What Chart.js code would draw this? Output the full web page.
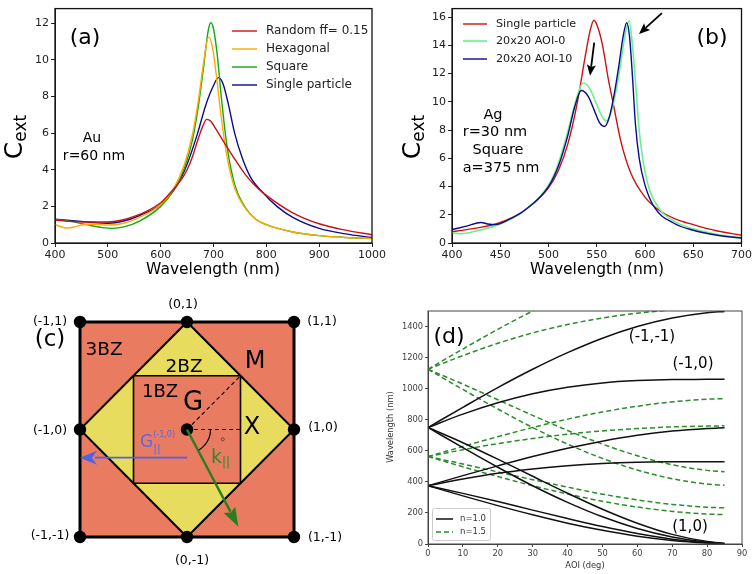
<!DOCTYPE html>
<html>
<head>
<meta charset="utf-8">
<script src="https://cdn.jsdelivr.net/npm/chart.js@4/dist/chart.umd.min.js"></script>
<style>
  html, body { margin: 0; padding: 0; background: #ffffff; }
  body { width: 754px; height: 574px; position: relative; overflow: hidden; }
  canvas { position: absolute; }
</style>
</head>
<body>
<canvas id="cc" width="374" height="284" style="left:0px;top:290px"></canvas>
<canvas id="cd" width="374" height="284" style="left:380px;top:290px"></canvas>
<canvas id="cb" width="374" height="285" style="left:380px;top:0px"></canvas>
<canvas id="ca" width="390" height="285" style="left:0px;top:0px"></canvas>
<script>
// ---------------- DATA: panel (a) Au r=60 nm ----------------
const aTicksX = [400, 500, 600, 700, 800, 900, 1000];
const aTicksY = [0, 2, 4, 6, 8, 10, 12];
const aRandomX = [400, 450, 500, 550, 600, 620, 640, 650, 660, 670, 680, 687, 695, 705, 720, 738, 760, 780, 800, 850, 900, 950, 1000];
const aRandomY = [1.25, 1.15, 1.15, 1.45, 2.2, 2.8, 3.5, 4.0, 4.7, 5.6, 6.4, 6.75, 6.65, 6.2, 5.5, 4.68, 3.75, 3.1, 2.6, 1.65, 1.05, 0.7, 0.45];
const aHexX = [400, 410, 422, 435, 450, 470, 500, 530, 560, 600, 625, 645, 660, 672, 682, 690.5, 698, 706, 715, 725, 740, 760, 780, 800, 850, 900, 950, 1000];
const aHexY = [1.02, 0.9, 0.82, 0.86, 0.98, 1.02, 0.98, 1.08, 1.4, 2.1, 3.0, 4.3, 5.9, 7.9, 10.0, 11.24, 10.7, 9.0, 6.8, 4.8, 3.0, 1.9, 1.3, 1.0, 0.6, 0.4, 0.3, 0.25];
const aSquareX = [400, 430, 460, 490, 510, 530, 560, 600, 625, 645, 660, 672, 682, 690, 695, 700, 707, 715, 725, 740, 760, 780, 800, 850, 900, 950, 1000];
const aSquareY = [1.28, 1.18, 1.0, 0.84, 0.8, 0.88, 1.2, 2.0, 2.9, 4.1, 5.6, 7.6, 9.8, 11.6, 12.03, 11.7, 10.3, 7.9, 5.4, 3.2, 1.95, 1.3, 1.0, 0.6, 0.4, 0.3, 0.25];
const aSingleX = [400, 450, 480, 500, 530, 560, 600, 630, 650, 670, 685, 700, 709.5, 718, 728, 740, 755, 770, 795, 820, 850, 900, 950, 1000];
const aSingleY = [1.3, 1.18, 1.1, 1.08, 1.2, 1.5, 2.1, 3.1, 4.3, 6.0, 7.5, 8.6, 9.03, 8.7, 7.6, 6.0, 4.6, 3.6, 2.7, 2.0, 1.4, 0.8, 0.5, 0.3];

// ---------------- DATA: panel (b) Ag r=30 nm ----------------
const bTicksX = [400, 450, 500, 550, 600, 650, 700];
const bTicksY = [0, 2, 4, 6, 8, 10, 12, 14, 16];
const bSingleX = [400, 425, 450, 475, 500, 510, 520, 530, 538, 543, 547, 551, 556, 562, 567, 575, 585, 600, 615, 630, 650, 675, 700];
const bSingleY = [0.8, 1.05, 1.45, 2.3, 3.9, 5.1, 7.0, 10.0, 13.2, 15.0, 15.78, 15.3, 14.0, 11.6, 9.9, 7.2, 5.0, 3.25, 2.3, 1.75, 1.3, 0.85, 0.55];
const bAoi0X = [400, 410, 425, 450, 475, 500, 510, 520, 528, 536, 543, 550, 556, 560, 565, 570, 575, 579, 583.5, 587, 590, 594, 598, 605, 615, 630, 650, 675, 700];
const bAoi0Y = [0.72, 0.66, 0.85, 1.35, 2.3, 4.1, 5.6, 7.9, 10.0, 11.35, 10.9, 9.8, 8.9, 8.65, 9.3, 10.8, 12.8, 14.6, 15.75, 14.0, 11.5, 8.0, 5.8, 3.7, 2.4, 1.55, 1.0, 0.6, 0.38];
const bAoi10X = [400, 415, 430, 437, 445, 460, 475, 500, 510, 520, 527, 534, 541, 548, 553, 558, 563, 568, 573, 577, 581, 584, 587, 590, 594, 600, 610, 630, 650, 675, 700];
const bAoi10Y = [0.95, 1.2, 1.45, 1.35, 1.3, 1.7, 2.3, 4.0, 5.4, 7.6, 9.6, 10.8, 10.4, 9.3, 8.5, 8.25, 8.9, 10.5, 12.6, 14.5, 15.6, 14.6, 11.8, 8.5, 6.0, 4.1, 2.5, 1.4, 0.9, 0.55, 0.35];

// ---------------- DATA: panel (d) Rayleigh anomalies ----------------
const dTicksX = [0, 10, 20, 30, 40, 50, 60, 70, 80, 90];
const dTicksY = [0, 200, 400, 600, 800, 1000, 1200, 1400];
const aoi = [0, 10, 20, 30, 40, 50, 60, 70, 80, 85];
const n1_750up1 = [750, 880, 1007, 1125, 1232, 1325, 1400, 1455, 1489, 1497];
const n1_750up2 = [750, 836, 909, 967, 1009, 1037, 1052, 1059, 1060, 1061];
const n1_750dn1 = [750, 620, 494, 375, 268, 175, 100, 45, 11, 3];
const n1_750dn2 = [750, 652, 546, 436, 327, 224, 134, 62, 16, 4];
const n1_375up1 = [375, 440, 503, 563, 616, 662, 700, 727, 744, 749];
const n1_375up2 = [375, 418, 455, 483, 504, 518, 526, 529, 530, 530];
const n1_375dn1 = [375, 310, 247, 188, 134, 88, 50, 23, 6, 1];
const n1_375dn2 = [375, 326, 273, 218, 164, 112, 67, 31, 8, 2];
const n15_1125up1 = [1125, 1255, 1382, 1500, 1607, 1700, 1775, 1830, 1864, 1872];
const n15_1125up2 = [1125, 1213, 1292, 1359, 1413, 1455, 1486, 1507, 1519, 1522];
const n15_1125dn1 = [1125, 995, 869, 750, 643, 551, 476, 420, 386, 378];
const n15_1125dn2 = [1125, 1029, 929, 828, 731, 643, 568, 510, 474, 465];
const n15_562up1 = [563, 628, 691, 750, 804, 850, 887, 915, 932, 936];
const n15_562up2 = [563, 607, 646, 679, 707, 728, 743, 754, 759, 761];
const n15_562dn1 = [563, 497, 434, 375, 322, 275, 238, 210, 193, 189];
const n15_562dn2 = [563, 515, 464, 414, 366, 321, 284, 255, 237, 233];

// ---------------- DATA: panel (c) Brillouin zones ----------------
const bz3X = [-1, 1, 1, -1, -1];
const bz3Y = [1, 1, -1, -1, 1];
const bz2X = [0, 1, 0, -1, 0];
const bz2Y = [1, 0, -1, 0, 1];
const bz1X = [-0.5, 0.5, 0.5, -0.5, -0.5];
const bz1Y = [0.5, 0.5, -0.5, -0.5, 0.5];
const latticeX = [-1, 0, 1, -1, 1, -1, 0, 1, 0];
const latticeY = [1, 1, 1, 0, 0, -1, -1, -1, 0];
const lineGMX = [0, 0.5];
const lineGMY = [0, 0.5];
const lineGXX = [0, 0.5];
const lineGXY = [0, 0];
const arcX = [0.22, 0.2167, 0.2067, 0.1905, 0.1685, 0.1414, 0.11];
const arcY = [0, -0.0382, -0.0752, -0.11, -0.1414, -0.1685, -0.1905];
const kArrow = [0, 0, 0.48, -0.904];        // x0, y0, x1, y1
const gArrow = [0, -0.262, -1.0, -0.262];   // x0, y0, x1, y1
const degMarkX = [0.334];
const degMarkY = [-0.091];

// ---------------- helpers ----------------
const FAM = '"DejaVu Sans", sans-serif';
const zip = (xs, ys) => xs.map((x, i) => ({ x: x, y: ys[i] }));
function curve(xs, ys, color, width, dash) {
  return { data: zip(xs, ys), borderColor: color, backgroundColor: color, borderWidth: width,
           borderDash: dash || [], pointRadius: 0, fill: false, cubicInterpolationMode: 'monotone', showLine: true };
}
function axis(min, max, ticksArr, size, color, side, fit, tickLen) {
  return {
    type: 'linear', min: min, max: max,
    afterBuildTicks: s => { s.ticks = ticksArr.map(v => ({ value: v })); },
    afterFit: s => { if (side === 'x') s.height = fit; else s.width = fit; },
    grid: { drawOnChartArea: false, drawTicks: true, tickLength: tickLen, color: color, lineWidth: 1 },
    border: { display: true, color: color, width: 1 },
    ticks: { font: { family: FAM, size: size }, color: color, padding: 2, maxRotation: 0, autoSkip: false,
             callback: v => String(v) }
  };
}

const TEXTS = {}, FRAMES = {}, LEGENDS = {}, ARROWS = {};

function drawText(ctx, it) {
  ctx.save();
  ctx.translate(it.x, it.y);
  if (it.rot) ctx.rotate(it.rot * Math.PI / 180);
  const segs = it.segs || [{ t: it.t, size: it.size }];
  let total = 0;
  for (const s of segs) {
    ctx.font = (s.size) + 'px ' + FAM;
    s._w = ctx.measureText(s.t).width;
    if (!s.stack) total += s._w;
  }
  let x = it.align === 'left' ? 0 : (it.align === 'right' ? -total : -total / 2);
  let prevX = x;
  ctx.textBaseline = 'middle';
  ctx.textAlign = 'left';
  for (const s of segs) {
    ctx.font = (s.size) + 'px ' + FAM;
    ctx.fillStyle = s.color || it.color || '#000';
    const sx = s.stack ? prevX : x;
    ctx.fillText(s.t, sx, s.dy || 0);
    if (!s.stack) { prevX = x; x += s._w; }
  }
  ctx.restore();
}

const overlayPlugin = {
  id: 'overlay',
  afterDatasetsDraw(chart) {
    const id = chart.canvas.id, ctx = chart.ctx;
    const fr = FRAMES[id];
    if (fr) {
      const a = chart.chartArea;
      ctx.save();
      ctx.strokeStyle = fr.color; ctx.lineWidth = fr.width;
      ctx.strokeRect(a.left, a.top, a.right - a.left, a.bottom - a.top);
      ctx.restore();
    }
    (ARROWS[id] || []).forEach(ar => {
      const sx = chart.scales.x, sy = chart.scales.y;
      const x0 = sx.getPixelForValue(ar.p[0]), y0 = sy.getPixelForValue(ar.p[1]);
      const x1 = sx.getPixelForValue(ar.p[2]), y1 = sy.getPixelForValue(ar.p[3]);
      const L = Math.hypot(x1 - x0, y1 - y0), ux = (x1 - x0) / L, uy = (y1 - y0) / L;
      const bx = x1 - ux * ar.hl, by = y1 - uy * ar.hl;
      ctx.save();
      ctx.strokeStyle = ar.color; ctx.fillStyle = ar.color; ctx.lineWidth = ar.lw;
      ctx.beginPath(); ctx.moveTo(x0, y0); ctx.lineTo(bx + ux * 2, by + uy * 2); ctx.stroke();
      ctx.beginPath();
      ctx.moveTo(x1, y1);
      ctx.lineTo(bx - uy * ar.hw, by + ux * ar.hw);
      ctx.lineTo(x1 - ux * ar.hl * (ar.notch || 1), y1 - uy * ar.hl * (ar.notch || 1));
      ctx.lineTo(bx + uy * ar.hw, by - ux * ar.hw);
      ctx.closePath(); ctx.fill();
      ctx.restore();
    });
    const lg = LEGENDS[id];
    if (lg) {
      ctx.save();
      if (lg.box) {
        ctx.fillStyle = 'rgba(255,255,255,0.85)';
        ctx.strokeStyle = '#cccccc'; ctx.lineWidth = 1;
        ctx.beginPath();
        if (ctx.roundRect) ctx.roundRect(lg.box[0], lg.box[1], lg.box[2], lg.box[3], 2);
        else ctx.rect(lg.box[0], lg.box[1], lg.box[2], lg.box[3]);
        ctx.fill(); ctx.stroke();
      }
      lg.rows.forEach(r => {
        const ds = chart.data.datasets[r.ds];
        ctx.strokeStyle = ds.borderColor; ctx.lineWidth = ds.borderWidth;
        ctx.setLineDash(ds.borderDash || []);
        ctx.beginPath(); ctx.moveTo(lg.x1, r.y); ctx.lineTo(lg.x2, r.y); ctx.stroke();
        ctx.setLineDash([]);
        drawText(ctx, { t: ds.label, size: lg.size, x: lg.tx, y: r.y, align: 'left', color: lg.color });
      });
      ctx.restore();
    }
    (TEXTS[id] || []).forEach(it => drawText(chart.ctx, it));
  }
};
Chart.register(overlayPlugin);

const baseOpts = (padding) => ({
  responsive: false, animation: false, devicePixelRatio: 1,
  layout: { padding: padding, autoPadding: false },
  plugins: { legend: { display: false }, tooltip: { enabled: false } },
  events: []
});

// ---------------- panel (a) ----------------
TEXTS.ca = [
  { t: '(a)', size: 22, x: 85, y: 38 },
  { t: 'Au', size: 14, x: 92, y: 138 },
  { t: 'r=60 nm', size: 14, x: 94, y: 156 },
  { segs: [{ t: 'C', size: 25 }, { t: 'ext', size: 17, dy: 7 }], x: 15, y: 137, rot: -90 },
  { t: 'Wavelength (nm)', size: 15.5, x: 213, y: 270 }
];
FRAMES.ca = { color: '#111', width: 1.3 };
LEGENDS.ca = { x1: 232, x2: 257, tx: 266, size: 12, color: '#222',
  rows: [{ ds: 0, y: 31 }, { ds: 1, y: 49 }, { ds: 2, y: 67 }, { ds: 3, y: 85 }] };
(function () {
  const o = baseOpts({ top: 7, right: 18, left: 0, bottom: 0 });
  o.scales = { x: axis(400, 1000, aTicksX, 11, '#222', 'x', 42, 4), y: axis(0, 12.8, aTicksY, 11, '#222', 'y', 55, 4) };
  const d0 = curve(aRandomX, aRandomY, '#cc1111', 1.4); d0.label = 'Random ff= 0.15';
  const d1 = curve(aHexX, aHexY, '#ffaa00', 1.4); d1.label = 'Hexagonal';
  const d2 = curve(aSquareX, aSquareY, '#14a814', 1.4); d2.label = 'Square';
  const d3 = curve(aSingleX, aSingleY, '#0b0b8e', 1.4); d3.label = 'Single particle';
  new Chart(document.getElementById('ca'), { type: 'scatter', data: { datasets: [d0, d1, d2, d3] }, options: o });
})();

// ---------------- panel (b) ----------------
TEXTS.cb = [
  { t: '(b)', size: 22, x: 332, y: 38 },
  { t: 'Ag', size: 14.5, x: 113, y: 115 },
  { t: 'r=30 nm', size: 14.5, x: 115, y: 132 },
  { t: 'Square', size: 14.5, x: 118, y: 150 },
  { t: 'a=375 nm', size: 14.5, x: 121, y: 168 },
  { segs: [{ t: 'C', size: 25 }, { t: 'ext', size: 17, dy: 7 }], x: 33, y: 137, rot: -90 },
  { t: 'Wavelength (nm)', size: 15.5, x: 217, y: 270 }
];
FRAMES.cb = { color: '#111', width: 1.3 };
LEGENDS.cb = { x1: 83, x2: 107, tx: 116, size: 11.2, color: '#222',
  rows: [{ ds: 0, y: 24 }, { ds: 1, y: 41 }, { ds: 2, y: 59 }] };
ARROWS.cb = [
  { p: [617.5, 16.28, 593.8, 14.8], color: '#000', lw: 1.8, hl: 11, hw: 4.5, notch: 0.8 },
  { p: [547.4, 14.19, 543.0, 11.84], color: '#000', lw: 1.8, hl: 11, hw: 4.5, notch: 0.8 }
];
(function () {
  const o = baseOpts({ top: 7, right: 11, left: 0, bottom: 0 });
  o.scales = { x: axis(400, 700, bTicksX, 11, '#222', 'x', 42, 4), y: axis(0, 16.6, bTicksY, 11, '#222', 'y', 72, 4) };
  const d0 = curve(bSingleX, bSingleY, '#cc1111', 1.4); d0.label = 'Single particle';
  const d1 = curve(bAoi0X, bAoi0Y, '#6cf08c', 1.6); d1.label = '20x20 AOI-0';
  const d2 = curve(bAoi10X, bAoi10Y, '#0b0b8e', 1.4); d2.label = '20x20 AOI-10';
  d0.order = 3; d1.order = 2; d2.order = 1;
  new Chart(document.getElementById('cb'), { type: 'scatter', data: { datasets: [d0, d1, d2] }, options: o });
})();

// ---------------- panel (d) ----------------
TEXTS.cd = [
  { t: '(d)', size: 22, x: 69, y: 47 },
  { t: '(-1,-1)', size: 15, x: 272, y: 47 },
  { t: '(-1,0)', size: 15, x: 313, y: 74 },
  { t: '(1,0)', size: 15, x: 310, y: 237 },
  { t: 'Wavelength (nm)', size: 8.3, x: 11, y: 137, rot: -90, color: '#333' },
  { t: 'AOI (deg)', size: 8.3, x: 205, y: 276, color: '#333' }
];
FRAMES.cd = { color: '#444', width: 1 };
LEGENDS.cd = { x1: 56, x2: 73, tx: 80, size: 8.5, color: '#333', box: [52.5, 218.5, 58, 32],
  rows: [{ ds: 0, y: 229 }, { ds: 8, y: 242 }] };
(function () {
  const o = baseOpts({ top: 21, right: 12, left: 0, bottom: 0 });
  o.scales = { x: axis(0, 90, dTicksX, 8.3, '#444', 'x', 30, 3), y: axis(0, 1500, dTicksY, 8.3, '#444', 'y', 48, 3) };
  const black = [n1_750up1, n1_750up2, n1_750dn1, n1_750dn2, n1_375up1, n1_375up2, n1_375dn1, n1_375dn2];
  const green = [n15_1125up1, n15_1125up2, n15_1125dn1, n15_1125dn2, n15_562up1, n15_562up2, n15_562dn1, n15_562dn2];
  const ds = [];
  black.forEach(ys => { const d = curve(aoi, ys, '#111111', 1.5); d.label = 'n=1.0'; d.order = 1; ds.push(d); });
  green.forEach(ys => { const d = curve(aoi, ys, '#2a8c2a', 1.5, [5, 3]); d.label = 'n=1.5'; d.order = 2; ds.push(d); });
  new Chart(document.getElementById('cd'), { type: 'scatter', data: { datasets: ds }, options: o });
})();

// ---------------- panel (c) ----------------
TEXTS.cc = [
  { t: '(-1,1)', size: 12.5, x: 50, y: 32 },
  { t: '(0,1)', size: 12.5, x: 183, y: 15 },
  { t: '(1,1)', size: 12.5, x: 322, y: 32 },
  { t: '(-1,0)', size: 12.5, x: 50, y: 141 },
  { t: '(1,0)', size: 12.5, x: 323, y: 138 },
  { t: '(-1,-1)', size: 12.5, x: 50, y: 246 },
  { t: '(1,-1)', size: 12.5, x: 325, y: 248 },
  { t: '(0,-1)', size: 12.5, x: 192, y: 271 },
  { t: '(c)', size: 23, x: 50, y: 50 },
  { t: '3BZ', size: 18.5, x: 104, y: 60 },
  { t: '2BZ', size: 18.5, x: 184, y: 77 },
  { t: '1BZ', size: 18, x: 160, y: 102 },
  { t: 'G', size: 26, x: 193, y: 113 },
  { t: 'M', size: 24, x: 255, y: 72 },
  { t: 'X', size: 24, x: 252, y: 138 },
  { segs: [{ t: 'G', size: 17, color: '#5a68e6' }, { t: '||', size: 11, dy: 6, color: '#5a68e6' },
           { t: '(-1,0)', size: 8, dy: -8, stack: true, color: '#5a68e6' }], x: 140, y: 153, align: 'left' },
  { segs: [{ t: 'k', size: 19, color: '#2f8a2f' }, { t: '||', size: 12, dy: 5, color: '#2f8a2f' }], x: 211, y: 168, align: 'left' }
];
ARROWS.cc = [
  { p: kArrow, color: '#2c7d22', lw: 2.4, hl: 19, hw: 6.5, notch: 0.85 },
  { p: gArrow, color: '#4d62e8', lw: 1.6, hl: 17, hw: 7, notch: 0.7 }
];
(function () {
  const o = baseOpts(0);
  o.scales = {
    x: { type: 'linear', min: -1.7477, max: 1.7477, display: false },
    y: { type: 'linear', min: -1.3442, max: 1.2977, display: false }
  };
  const poly = (xs, ys, fillC, lw, ord) => ({ data: zip(xs, ys), showLine: true, fill: 'shape', backgroundColor: fillC,
    borderColor: '#000', borderWidth: lw, pointRadius: 0, tension: 0, order: ord, borderJoinStyle: 'miter' });
  const seg = (xs, ys, lw, dash, ord, tension) => ({ data: zip(xs, ys), showLine: true, fill: false, borderColor: '#000',
    borderWidth: lw, borderDash: dash, pointRadius: 0, tension: tension || 0, order: ord });
  const ds = [
    poly(bz3X, bz3Y, '#e97b61', 3, 10),
    poly(bz2X, bz2Y, '#e8dc5f', 2, 9),
    poly(bz1X, bz1Y, '#e97b61', 1.6, 8),
    seg(lineGMX, lineGMY, 1.1, [4, 3], 6),
    seg(lineGXX, lineGXY, 1.1, [4, 3], 6),
    seg(arcX, arcY, 1.2, [], 5, 0.4),
    { data: zip(degMarkX, degMarkY), showLine: false, pointRadius: 1.6, pointBackgroundColor: '#e97b61',
      pointBorderColor: '#444', pointBorderWidth: 0.8, order: 4 },
    { data: zip(latticeX, latticeY), showLine: false, pointRadius: 6.2, pointBackgroundColor: '#000',
      pointBorderColor: '#000', pointBorderWidth: 0, order: 1 }
  ];
  new Chart(document.getElementById('cc'), { type: 'scatter', data: { datasets: ds }, options: o });
})();
</script>
</body>
</html>
